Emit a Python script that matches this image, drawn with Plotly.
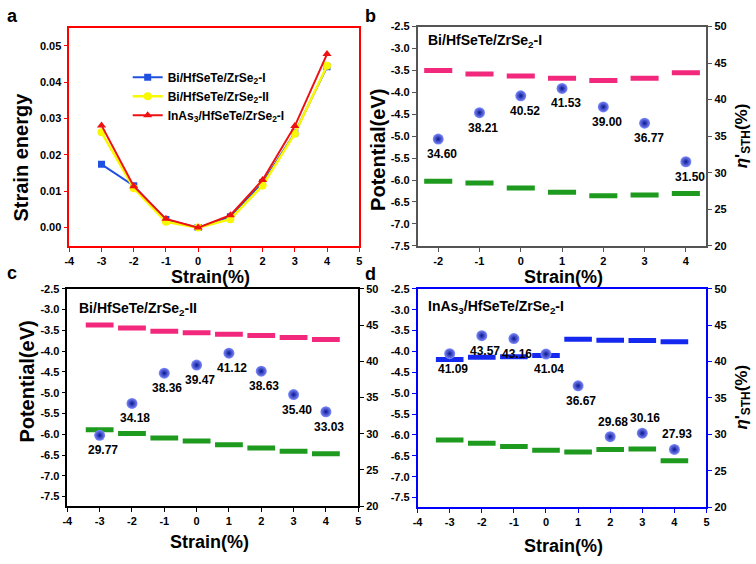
import plotly.graph_objects as go

# ---------------- data ----------------
strain_a = [-3, -2, -1, 0, 1, 2, 3, 4]
energy_bi_I = [0.0174, 0.0115, 0.0022, 0.0, 0.0030, 0.0123, 0.0260, 0.0442]
energy_bi_II = [0.0262, 0.0108, 0.0016, 0.0, 0.0023, 0.0116, 0.0258, 0.0445]
energy_inas = [0.0281, 0.0114, 0.0024, 0.0, 0.0034, 0.0131, 0.0279, 0.0477]

strain_b = [-2, -1, 0, 1, 2, 3, 4]
upper_b = [-3.50, -3.585, -3.63, -3.68, -3.73, -3.68, -3.555]
lower_b = [-6.03, -6.07, -6.18, -6.28, -6.36, -6.34, -6.31]
sth_b = [34.60, 38.21, 40.52, 41.53, 39.00, 36.77, 31.50]

strain_c = [-3, -2, -1, 0, 1, 2, 3, 4]
upper_c = [-3.37, -3.445, -3.52, -3.555, -3.59, -3.62, -3.67, -3.72]
lower_c = [-5.89, -5.98, -6.09, -6.16, -6.25, -6.33, -6.41, -6.47]
sth_c = [29.77, 34.18, 38.36, 39.47, 41.12, 38.63, 35.40, 33.03]

strain_d = [-3, -2, -1, 0, 1, 2, 3, 4]
upper_d = [-4.19, -4.14, -4.125, -4.10, -3.71, -3.73, -3.74, -3.77]
lower_d = [-6.12, -6.20, -6.28, -6.37, -6.41, -6.35, -6.34, -6.62]
sth_d = [41.09, 43.57, 43.16, 41.04, 36.67, 29.68, 30.16, 27.93]

strain_ticks_full = [-4, -3, -2, -1, 0, 1, 2, 3, 4, 5]
strain_ticks_b = [-2, -1, 0, 1, 2, 3, 4]
energy_ticks = [0.00, 0.01, 0.02, 0.03, 0.04, 0.05]
pot_ticks = [-2.5, -3.0, -3.5, -4.0, -4.5, -5.0, -5.5, -6.0, -6.5, -7.0, -7.5]
sth_ticks = [20, 25, 30, 35, 40, 45, 50]

# ---------------- styles ----------------
W, H = 756, 564
FONT = "Liberation Sans"
BLACK = "#000000"
PINK = "#f2287c"
GREEN = "#1e9a1e"
BLUE_SEG = "#1428f0"


def px(x):
    return x / W


def py(y):
    return 1 - y / H


def segs(xs, ys, half):
    sx, sy = [], []
    for x, y in zip(xs, ys):
        sx += [x - half, x + half, None]
        sy += [y, y, None]
    return sx, sy


def axis_common(tickvals, ticktext, rng, col, **kw):
    d = dict(
        showline=True, linewidth=1.5, linecolor=col,
        ticks="outside", ticklen=4, tickwidth=1.3, tickcolor=col,
        tickmode="array", tickvals=tickvals, ticktext=ticktext, range=rng,
        showgrid=False, zeroline=False,
        tickfont=dict(family=FONT, size=11, color=BLACK, weight="bold"),
    )
    d.update(kw)
    return d


fig = go.Figure()

fig.add_trace(go.Scatter(
    x=strain_a, y=energy_bi_I, mode="lines+markers",
    name="Bi/HfSeTe/ZrSe<sub>2</sub>-I",
    line=dict(color="#2050e0", width=2),
    marker=dict(symbol="square", size=7, color="#2050e0"),
    xaxis="x", yaxis="y"))
fig.add_trace(go.Scatter(
    x=strain_a, y=energy_bi_II, mode="lines+markers",
    name="Bi/HfSeTe/ZrSe<sub>2</sub>-II",
    line=dict(color="#f8f800", width=2.5),
    marker=dict(symbol="circle", size=8, color="#f8f800"),
    xaxis="x", yaxis="y"))
fig.add_trace(go.Scatter(
    x=strain_a, y=energy_inas, mode="lines+markers",
    name="InAs<sub>3</sub>/HfSeTe/ZrSe<sub>2</sub>-I",
    line=dict(color="#ee1111", width=2),
    marker=dict(symbol="triangle-up", size=8, color="#ee1111"),
    xaxis="x", yaxis="y"))


def add_band_panel(xs, up, lo, sth, half, xa, ya, yr, upcolor, textpos, xshift):
    sx, sy = segs(xs, up, half)
    fig.add_trace(go.Scatter(x=sx, y=sy, mode="lines", showlegend=False,
                             line=dict(color=upcolor, width=5),
                             xaxis=xa, yaxis=ya, hoverinfo="skip"))
    sx, sy = segs(xs, lo, half)
    fig.add_trace(go.Scatter(x=sx, y=sy, mode="lines", showlegend=False,
                             line=dict(color=GREEN, width=5),
                             xaxis=xa, yaxis=ya, hoverinfo="skip"))
    fig.add_trace(go.Scatter(
        x=xs, y=sth, mode="markers", showlegend=False,
        marker=dict(size=11, color="#7f8cff",
                    gradient=dict(type="radial", color="#0a1690"),
                    line=dict(width=0)),
        xaxis=xa, yaxis=yr))
    for x, v, pos in zip(xs, sth, textpos):
        fig.add_annotation(
            x=x, y=v, xref=xa, yref=yr, text=f"{v:.2f}", showarrow=False,
            xshift=xshift, yshift=(-15 if pos == "b" else 15),
            font=dict(family=FONT, size=12, color=BLACK, weight="bold"))


add_band_panel(strain_b, upper_b, lower_b, sth_b, 0.34, "x2", "y2", "y3", PINK,
               ["b"] * 7, 4)
add_band_panel(strain_c, upper_c, lower_c, sth_c, 0.43, "x3", "y4", "y5", PINK,
               ["b"] * 8, 3)
add_band_panel(strain_d, upper_d, lower_d, sth_d, 0.43, "x4", "y6", "y7", BLUE_SEG,
               ["b", "b", "b", "b", "b", "t", "t", "t"], 3)

dom_a = ([px(65), px(358)], [py(245), py(22)])
dom_b = ([px(417), px(709)], [py(245), py(21)])
dom_c = ([px(63), px(357)], [py(511), py(289)])
dom_d = ([px(417), px(709)], [py(512), py(289)])

strain_txt_full = [str(v) for v in strain_ticks_full]
strain_txt_b = [str(v) for v in strain_ticks_b]
pot_txt = [f"{v:.1f}" for v in pot_ticks]
sth_txt = [str(v) for v in sth_ticks]
energy_txt = [f"{v:.2f}" for v in energy_ticks]

CA, CB, CC, CD = "#ff0000", "#555555", "#000000", "#0000ff"

fig.update_layout(
    xaxis=axis_common(strain_ticks_full, strain_txt_full, [-4, 5], CA,
                      domain=dom_a[0], anchor="y", mirror=True),
    yaxis=axis_common(energy_ticks, energy_txt, [-0.005, 0.055], CA,
                      domain=dom_a[1], anchor="x", mirror=True),
    xaxis2=axis_common(strain_ticks_b, strain_txt_b, [-2.5, 4.5], CB,
                       domain=dom_b[0], anchor="y2", mirror=True),
    yaxis2=axis_common(pot_ticks, pot_txt, [-7.5, -2.5], CB,
                       domain=dom_b[1], anchor="x2"),
    yaxis3=axis_common(sth_ticks, sth_txt, [20, 50], CB,
                       domain=dom_b[1], anchor="x2", overlaying="y2", side="right"),
    xaxis3=axis_common(strain_ticks_full, strain_txt_full, [-4, 5], CC,
                       domain=dom_c[0], anchor="y4", mirror=True),
    yaxis4=axis_common(pot_ticks, pot_txt, [-7.73, -2.5], CC,
                       domain=dom_c[1], anchor="x3"),
    yaxis5=axis_common(sth_ticks, sth_txt, [20, 50], CC,
                       domain=dom_c[1], anchor="x3", overlaying="y4", side="right"),
    xaxis4=axis_common(strain_ticks_full, strain_txt_full, [-4, 5], CD,
                       domain=dom_d[0], anchor="y6", mirror=True),
    yaxis6=axis_common(pot_ticks, pot_txt, [-7.73, -2.5], CD,
                       domain=dom_d[1], anchor="x4"),
    yaxis7=axis_common(sth_ticks, sth_txt, [20, 50], CD,
                       domain=dom_d[1], anchor="x4", overlaying="y6", side="right"),
)


def ann(x, y, text, size, angle=0, xanchor="center"):
    fig.add_annotation(x=px(x), y=py(y), xref="paper", yref="paper",
                       text=text, showarrow=False, textangle=angle, xanchor=xanchor,
                       yanchor="middle",
                       font=dict(family=FONT, size=size, color=BLACK, weight="bold"))


ann(8, 10, "a", 18)
ann(369, 10, "b", 18)
ann(7, 273, "c", 18)
ann(369, 274, "d", 18)
ann(426, 36, "Bi/HfSeTe/ZrSe<sub>2</sub>-I", 14, xanchor="left")
ann(73, 310, "Bi/HfSeTe/ZrSe<sub>2</sub>-II", 14, xanchor="left")
ann(425, 308, "InAs<sub>3</sub>/HfSeTe/ZrSe<sub>2</sub>-I", 14, xanchor="left")
ann(208, 277, "Strain(%)", 18)
ann(564, 277, "Strain(%)", 18)
ann(207, 548, "Strain(%)", 18)
ann(564, 552, "Strain(%)", 18)
ann(16, 154, "Strain energy", 20, angle=-90)
ann(377, 147, "Potential(eV)", 20, angle=-90)
ann(22, 384, "Potential(eV)", 20, angle=-90)
eta = "<i>η</i>'<sub>STH</sub>(%)"
ann(746, 133, eta, 17, angle=-90)
ann(746, 400, eta, 17, angle=-90)

fig.update_layout(
    width=W, height=H,
    margin=dict(l=0, r=0, t=0, b=0),
    paper_bgcolor="white", plot_bgcolor="white",
    showlegend=True,
    legend=dict(x=px(124), y=py(58), xanchor="left", yanchor="top",
                bgcolor="rgba(0,0,0,0)", tracegroupgap=0,
                font=dict(family=FONT, size=12, color=BLACK, weight="bold")),
)

fig.write_html("out.html", config={"displayModeBar": False},
               post_script="document.body.style.margin='0px';document.body.style.padding='0px';")
